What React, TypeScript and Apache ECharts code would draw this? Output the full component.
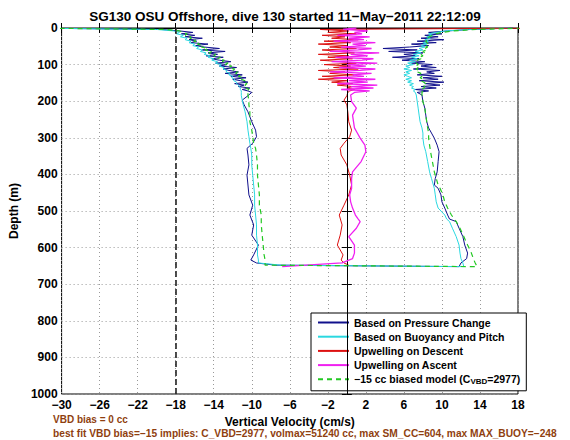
import React, { useEffect, useRef } from "react";
import * as echarts from "echarts";

const titleText = "SG130 OSU Offshore, dive 130 started 11\u2212May\u22122011 22:12:09";
const xTicks = [-30, -26, -22, -18, -14, -10, -6, -2, 2, 6, 10, 14, 18];
const refDashedX = -18;
const refSolidX = 0;

const seriesNames = [
  "Based on Pressure Change",
  "Based on Buoyancy and Pitch",
  "Upwelling on Descent",
  "Upwelling on Ascent",
  "\u221215 cc biased model (CVBD=2977)",
];

// descent, top (noisy) part
const descentDepthTop = [0, 4, 8, 12, 16, 20, 24, 28, 32, 36, 40, 44, 48, 52, 56, 60, 64, 68, 72, 76, 80, 84, 88, 92, 96, 100, 104, 108, 112, 116, 120, 124, 128, 132, 136, 140, 144, 148, 152, 156, 160, 164, 168, 172, 176];
const pressDescTop = [-34, -19.5, -17.6, -16.2, -17.4, -16.0, -17.0, -15.2, -16.6, -15.8, -16.4, -14.6, -15.9, -15.0, -13.4, -15.2, -12.8, -14.6, -13.6, -14.8, -13.0, -14.2, -13.4, -12.2, -13.8, -12.6, -13.4, -11.6, -13.0, -12.4, -11.4, -12.8, -11.0, -12.2, -10.6, -12.0, -11.2, -10.4, -11.8, -10.8, -11.4, -10.2, -11.0, -10.4, -10.0];
const buoyDescTop = [-34, -20, -18.2, -17.6, -17.9, -17.2, -17.5, -16.8, -17.0, -16.4, -16.6, -16.0, -16.2, -15.6, -15.8, -15.2, -15.4, -14.8, -15.0, -14.4, -14.6, -14.0, -14.2, -13.6, -13.8, -13.2, -13.4, -12.9, -13.0, -12.6, -12.7, -12.3, -12.4, -12.0, -12.1, -11.8, -11.9, -11.6, -11.6, -11.4, -11.3, -11.2, -11.2, -11.1, -11.1];
const modelDescTop = [-34, -19, -17.6, -17.3, -16.8, -17.0, -16.4, -16.5, -15.9, -16.1, -15.5, -15.7, -15.1, -15.3, -14.6, -14.9, -14.2, -14.5, -13.8, -14.0, -13.3, -13.6, -12.9, -13.1, -12.5, -12.8, -12.1, -12.4, -11.8, -12.0, -11.5, -11.7, -11.2, -11.4, -10.9, -11.1, -10.7, -10.9, -10.5, -10.7, -10.4, -10.6, -10.3, -10.5, -10.4];
const upDescTop = [22, -2.8, 0.2, -2.0, 1.0, -2.6, -0.2, -1.6, 1.2, -2.4, 0.4, -3.0, 0.0, -1.8, 1.0, -2.6, -0.8, 0.8, -3.0, 0.2, -2.0, 0.6, -2.8, -0.6, 1.0, -2.4, 0.4, -1.4, 1.2, -3.0, -0.2, -1.8, 0.8, -2.6, 0.2, -3.0, 0.0, -1.6, 0.6, -1.0, 0.6, 0.0, 0.8, 0.3, 0.1];

// descent, lower part
const descentDepthLow = [185, 197, 210, 229, 256, 279, 297, 315, 329, 347, 374, 402, 429, 456, 484, 511, 538, 566, 593, 620, 634, 642, 648];
const pressDescLow = [-10.4, -11.0, -10.8, -10.4, -10.0, -9.6, -9.5, -9.9, -10.5, -10.4, -10.3, -10.5, -10.4, -10.3, -9.9, -10.2, -9.8, -10.0, -9.3, -9.8, -10.1, -9.5, -7.5];
const buoyDescLow = [-11.1, -11.0, -10.9, -10.7, -10.5, -10.4, -10.3, -10.2, -10.1, -10.0, -10.0, -9.9, -9.8, -9.7, -9.7, -9.6, -9.5, -9.5, -9.4, -9.4, -9.3, -9.3, -6.9];
const modelDescLow = [-10.4, -10.3, -10.3, -10.2, -10.2, -10.0, -9.9, -9.8, -9.6, -9.5, -9.4, -9.4, -9.3, -9.2, -9.2, -9.0, -9.0, -8.9, -8.8, -8.7, -8.6, -8.6, -8.6];
const upDescLow = [0.0, -0.3, 0.0, 0.1, 0.2, 0.5, 0.3, -0.3, -0.7, -0.6, 0.0, 0.3, 0.5, 0.2, -0.3, -0.8, -0.5, -0.7, -1.0, -0.4, -0.6, -0.3, 0.2];

// ascent, lower part (from the bottom up)
const ascentDepthLow = [652, 642, 630, 615, 593, 570, 547, 529, 522, 511, 492, 475, 456, 438, 429, 411, 393, 365, 338, 320, 301, 287, 273, 256, 238, 219, 201, 183];
const pressAscLow = [11.8, 12.0, 12.6, 12.7, 12.4, 12.2, 11.8, 11.5, 10.8, 10.6, 10.3, 10.0, 9.9, 9.6, 9.2, 9.3, 9.5, 9.6, 9.7, 9.5, 9.2, 8.9, 8.6, 8.4, 8.3, 8.2, 8.0, 7.9];
const buoyAscLow = [12.3, 12.2, 12.0, 11.9, 11.8, 11.5, 11.1, 10.8, 10.5, 10.3, 9.6, 9.4, 9.3, 9.2, 9.1, 8.9, 8.7, 8.5, 8.3, 8.1, 8.0, 8.0, 7.9, 7.7, 7.6, 7.5, 7.4, 7.3];
const modelAscLow = [13.7, 13.5, 13.3, 13.1, 12.7, 12.3, 11.9, 11.5, 11.3, 11.0, 10.6, 10.3, 10.1, 9.8, 9.6, 9.4, 9.2, 9.0, 8.8, 8.7, 8.6, 8.6, 8.5, 8.4, 8.3, 8.2, 8.0, 7.9];
const upAscLow = [-6.8, -0.5, 0.6, 0.8, 0.8, 0.2, 1.0, 1.4, 1.2, 0.9, 0.6, 0.4, 0.3, 0.5, 0.5, 0.5, 0.6, 1.5, 2.0, 1.9, 1.4, 1.1, 0.8, 0.7, 0.6, 1.0, 0.5, 0.4];

// ascent, top (noisy) part
const ascentDepthTop = [176, 172, 168, 164, 160, 156, 152, 148, 144, 140, 136, 132, 128, 124, 120, 116, 112, 108, 104, 100, 96, 92, 88, 84, 80, 76, 72, 68, 64, 60, 56, 52, 48, 44, 40, 36, 32, 28, 24, 20, 16, 12, 8, 4, 0];
const pressAscTop = [7.4, 8.6, 7.2, 9.4, 7.8, 9.8, 8.2, 10.2, 7.6, 9.6, 8.0, 10.0, 7.4, 9.2, 8.4, 9.8, 7.0, 9.4, 7.8, 9.0, 6.8, 8.2, 5.8, 7.6, 4.8, 7.2, 6.0, 8.0, 4.4, 7.4, 3.8, 6.6, 8.6, 6.8, 9.4, 7.4, 10.2, 7.8, 9.6, 8.2, 10.0, 8.6, 10.6, 13.0, 17.5];
const buoyAscTop = [7.2, 7.0, 7.2, 6.8, 7.0, 6.6, 7.0, 6.4, 6.8, 6.2, 6.8, 6.4, 6.0, 6.6, 6.2, 6.8, 6.0, 6.6, 6.2, 7.0, 6.4, 7.2, 6.6, 7.4, 6.8, 7.6, 7.0, 7.8, 7.2, 8.0, 7.6, 8.2, 7.8, 8.4, 8.0, 8.6, 8.2, 8.8, 8.4, 9.0, 8.6, 9.4, 10.4, 12.8, 17];
const modelAscTop = [7.9, 8.0, 7.8, 8.1, 8.2, 8.0, 8.3, 8.1, 7.8, 8.0, 7.7, 7.9, 7.6, 7.8, 7.4, 7.6, 7.3, 7.5, 7.2, 7.5, 7.3, 7.6, 7.4, 7.8, 7.6, 8.0, 7.8, 8.2, 8.0, 8.4, 8.2, 8.5, 8.3, 8.6, 8.4, 8.3, 8.5, 8.4, 8.7, 9.0, 9.4, 10.0, 11.2, 13.6, 19];
const upAscTop = [0.8, 2.4, -0.6, 2.8, 0.4, 3.2, -1.0, 2.2, 0.2, 3.0, -1.4, 1.8, 0.6, 2.6, -1.8, 1.4, 3.0, -0.8, 2.0, 0.0, 3.2, -1.6, 1.6, 2.8, -1.2, 2.2, 0.4, 3.4, -1.8, 1.2, 2.6, -0.6, 2.0, 0.6, 3.0, -1.4, 1.8, 0.2, 2.4, -1.0, 1.6, 0.8, 2.2, -0.4, 1.0];

const noteLine1 = "VBD bias = 0 cc";
const noteLine2 = "best fit VBD bias=\u221215 implies: C_VBD=2977, volmax=51240 cc, max SM_CC=604, max MAX_BUOY=\u2212248";

function zip(vel: number[], depth: number[]): number[][] {
  const out: number[][] = [];
  const n = Math.min(vel.length, depth.length);
  for (let i = 0; i < n; i++) out.push([vel[i], depth[i]]);
  return out;
}

const FONT = "'Liberation Sans', Arial, Helvetica, sans-serif";
const minus = (v: number) => String(v).replace("-", "\u2212");

export default function App() {
  const ref = useRef<HTMLDivElement>(null);
  useEffect(() => {
    if (!ref.current) return;
    const chart = echarts.init(ref.current, null, { renderer: "svg" });

    const descentD = [...descentDepthTop, ...descentDepthLow];
    const ascentD = [...ascentDepthLow, ...ascentDepthTop];
    const press = [...zip(pressDescTop, descentDepthTop), ...zip(pressDescLow, descentDepthLow), ...zip(pressAscLow, ascentDepthLow), ...zip(pressAscTop, ascentDepthTop)];
    const buoy = [...zip(buoyDescTop, descentDepthTop), ...zip(buoyDescLow, descentDepthLow), ...zip(buoyAscLow, ascentDepthLow), ...zip(buoyAscTop, ascentDepthTop)];
    const model = [...zip(modelDescTop, descentDepthTop), ...zip(modelDescLow, descentDepthLow), ...zip(modelAscLow, ascentDepthLow), ...zip(modelAscTop, ascentDepthTop)];
    const upDesc = zip([...upDescTop, ...upDescLow], descentD);
    const upAsc = zip([...upAscLow, ...upAscTop], ascentD);

    const lineBase = { type: "line", showSymbol: false, symbol: "none", clip: true, xAxisIndex: 0, yAxisIndex: 0 };

    chart.setOption({
      animation: false,
      backgroundColor: "#fff",
      textStyle: { fontFamily: FONT },
      title: {
        text: titleText,
        left: "center",
        top: 4,
        textStyle: { fontFamily: FONT, fontSize: 13.5, fontWeight: "bold", color: "#000" },
      },
      grid: { left: 53, top: 28, width: 465, height: 366, show: true, borderColor: "#000", borderWidth: 1, backgroundColor: "transparent" },
      legend: {
        orient: "vertical",
        left: 311,
        top: 313,
        padding: [4, 6, 5, 6],
        itemWidth: 31,
        itemHeight: 11,
        itemGap: 3.2,
        backgroundColor: "#fff",
        borderColor: "#000",
        borderWidth: 1,
        data: seriesNames,
        itemStyle: { opacity: 0 },
        textStyle: {
          fontFamily: FONT, fontSize: 10.5, fontWeight: "bold", color: "#000",
          rich: {
            t: { fontFamily: FONT, fontSize: 10.5, fontWeight: "bold", color: "#000" },
            sub: { fontFamily: FONT, fontSize: 8, fontWeight: "bold", color: "#000", padding: [5, 0, 0, 0] },
          },
        },
        formatter: (name: string) =>
          name === seriesNames[4] ? "{t|\u221215 cc biased model (C}{sub|VBD}{t|=2977)}" : name,
      },
      xAxis: [
        {
          type: "value", min: -30, max: 18, position: "bottom",
          name: "Vertical Velocity (cm/s)", nameLocation: "middle", nameGap: 14,
          nameTextStyle: { fontFamily: FONT, fontSize: 12, fontWeight: "bold", color: "#000", lineHeight: 12 },
          axisLine: { show: true, lineStyle: { color: "#000", width: 1 } },
          axisTick: { show: true, inside: true, length: 5, customValues: xTicks, lineStyle: { color: "#000" } },
          axisLabel: { customValues: xTicks, formatter: minus, margin: 5, fontFamily: FONT, fontSize: 12, fontWeight: "bold", color: "#000" },
          splitLine: { show: true, lineStyle: { color: "#999", type: [1, 3], width: 1 } },
        },
        {
          type: "value", min: -30, max: 18, position: "top",
          axisLine: { show: true, lineStyle: { color: "#000" } },
          axisTick: { show: true, inside: true, length: 5, customValues: xTicks, lineStyle: { color: "#000" } },
          axisLabel: { show: false, customValues: xTicks },
          splitLine: { show: false },
        },
      ],
      yAxis: [
        {
          type: "value", inverse: true, min: 0, max: 1000, interval: 100, position: "left",
          name: "Depth (m)", nameLocation: "middle", nameGap: 34, nameRotate: 90,
          nameTextStyle: { fontFamily: FONT, fontSize: 12, fontWeight: "bold", color: "#000" },
          axisLine: { show: true, lineStyle: { color: "#000", width: 1 } },
          axisTick: { show: true, inside: true, length: 5, lineStyle: { color: "#000" } },
          axisLabel: { margin: 4, formatter: (v: number) => String(v), fontFamily: FONT, fontSize: 12, fontWeight: "bold", color: "#000" },
          splitLine: { show: true, lineStyle: { color: "#999", type: [1, 3], width: 1 } },
        },
        {
          type: "value", inverse: true, min: 0, max: 1000, interval: 100, position: "right",
          axisLine: { show: true, lineStyle: { color: "#000" } },
          axisTick: { show: true, inside: true, length: 5, lineStyle: { color: "#000" } },
          axisLabel: { show: false },
          splitLine: { show: false },
        },
      ],
      series: [
        {
          ...lineBase, name: seriesNames[0], data: press, z: 2,
          lineStyle: { color: "#10108c", width: 1 }, itemStyle: { color: "#10108c" },
          markLine: {
            silent: true, symbol: ["none", "none"], label: { show: false },
            data: [
              { xAxis: refDashedX, lineStyle: { color: "#222", type: [6, 3], width: 1.6 } },
              { xAxis: refSolidX, lineStyle: { color: "#000", type: "solid", width: 1 } },
            ],
          },
        },
        { ...lineBase, name: seriesNames[1], data: buoy, z: 3, lineStyle: { color: "#2ad8e0", width: 1 }, itemStyle: { color: "#2ad8e0" } },
        { ...lineBase, name: seriesNames[2], data: upDesc, z: 4, lineStyle: { color: "#dd1010", width: 1 }, itemStyle: { color: "#dd1010" } },
        { ...lineBase, name: seriesNames[3], data: upAsc, z: 5, lineStyle: { color: "#f020f0", width: 1.3 }, itemStyle: { color: "#f020f0" } },
        { ...lineBase, name: seriesNames[4], data: model, z: 6, lineStyle: { color: "#22c822", width: 1.2, type: [5, 4] }, itemStyle: { color: "#22c822" } },
      ],
      graphic: [
        { type: "text", left: 53, top: 414, style: { text: noteLine1, fill: "#8f3f10", font: `bold 10px ${FONT}` } },
        { type: "text", left: 53, top: 428, style: { text: noteLine2, fill: "#8f3f10", font: `bold 10.2px ${FONT}` } },
      ],
    });
    return () => chart.dispose();
  }, []);
  return <div ref={ref} style={{ position: "fixed", left: 0, top: 0, width: 570, height: 440 }} />;
}
